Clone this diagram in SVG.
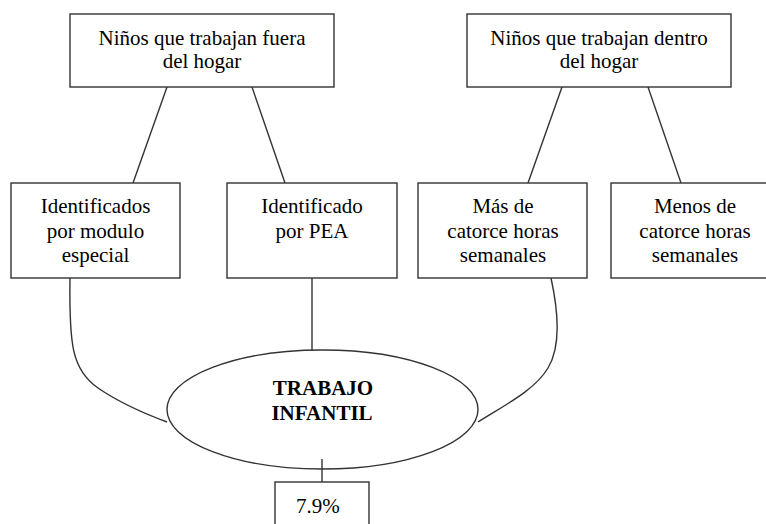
<svg xmlns="http://www.w3.org/2000/svg" width="766" height="524" viewBox="0 0 766 524">
<style>
.box{fill:#fff;stroke:#333;stroke-width:1.4}
.ln{fill:none;stroke:#333;stroke-width:1.4}
.t{font-family:'Liberation Serif','Noto Serif','DejaVu Serif',FreeSerif,Tinos,'Times New Roman',Times,serif;font-size:21px;fill:#000;text-anchor:middle}
.b{font-weight:bold}
</style>
<rect width="766" height="524" fill="#fff"/>
<g id="connectors">
<line class="ln" x1="167" y1="87" x2="133" y2="183"/>
<line class="ln" x1="252" y1="87" x2="285" y2="183"/>
<line class="ln" x1="562" y1="87" x2="528" y2="183"/>
<line class="ln" x1="648" y1="87" x2="681" y2="183"/>
<path class="ln" d="M70,278 C69,345 72,370 98,388 C120,403 140,412 167,422"/>
<line class="ln" x1="312" y1="278" x2="312" y2="351"/>
<path class="ln" d="M551,278 C558,310 562,345 548,368 C535,390 505,405 478,422"/>
<line class="ln" x1="322" y1="459" x2="322" y2="482"/>
</g>
<g id="n1">
<rect class="box" x="70" y="14" width="264" height="73"/>
<text class="t" x="202" y="45">Niños que trabajan fuera</text>
<text class="t" x="202" y="68">del hogar</text>
</g>
<g id="n2">
<rect class="box" x="467" y="14" width="264" height="73"/>
<text class="t" x="599" y="45">Niños que trabajan dentro</text>
<text class="t" x="599" y="68">del hogar</text>
</g>
<g id="n3">
<rect class="box" x="11" y="183" width="169" height="95"/>
<text class="t" x="95.5" y="213">Identificados</text>
<text class="t" x="95.5" y="238">por modulo</text>
<text class="t" x="95.5" y="262">especial</text>
</g>
<g id="n4">
<rect class="box" x="227" y="183" width="170" height="95"/>
<text class="t" x="312" y="213">Identificado</text>
<text class="t" x="312" y="238">por PEA</text>
</g>
<g id="n5">
<rect class="box" x="418" y="183" width="169" height="95"/>
<text class="t" x="503" y="213">Más de</text>
<text class="t" x="503" y="238">catorce horas</text>
<text class="t" x="503" y="262">semanales</text>
</g>
<g id="n6">
<rect class="box" x="611" y="183" width="168" height="95"/>
<text class="t" x="695" y="213">Menos de</text>
<text class="t" x="695" y="238">catorce horas</text>
<text class="t" x="695" y="262">semanales</text>
</g>
<g id="n7">
<ellipse cx="322.5" cy="409.5" rx="155.5" ry="59.5" fill="none" stroke="#333" stroke-width="1.4"/>
<text class="t b" x="323" y="395">TRABAJO</text>
<text class="t b" x="322" y="420">INFANTIL</text>
</g>
<g id="n8">
<rect class="box" x="275" y="482" width="94" height="60"/>
<text class="t" x="296" y="513" style="text-anchor:start">7.9%</text>
</g>
</svg>
